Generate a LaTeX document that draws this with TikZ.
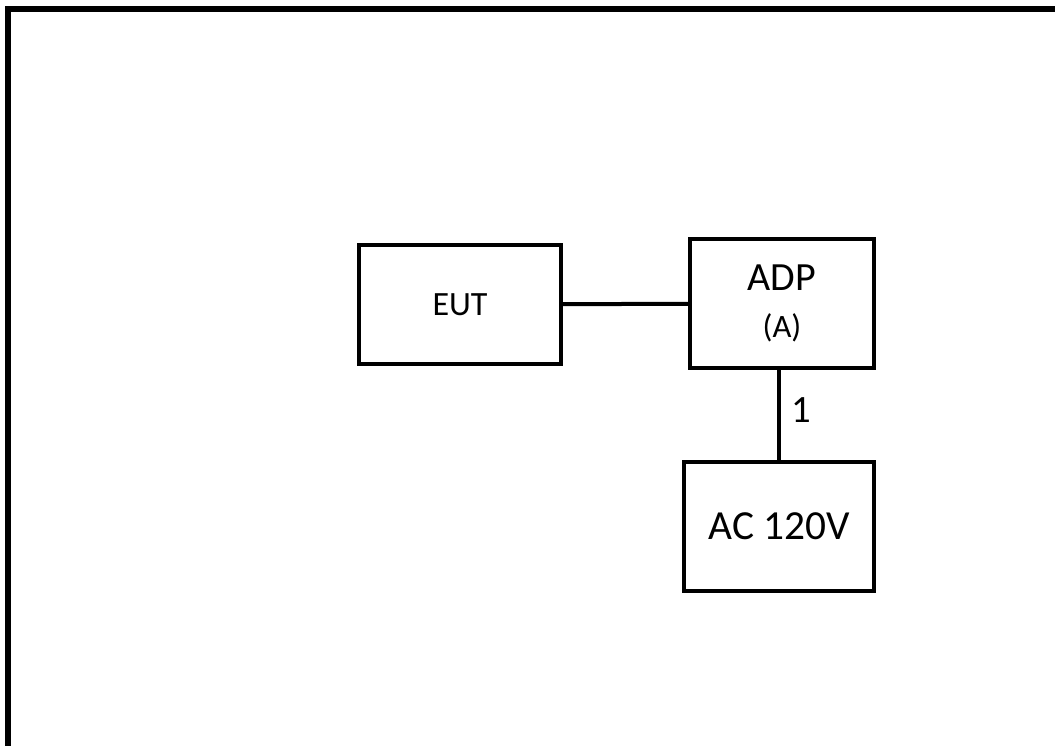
\documentclass[tikz,border=0pt]{standalone}
\usepackage{fontspec}
\setmainfont{Carlito}
\usetikzlibrary{positioning}

\begin{document}
\begin{tikzpicture}[
    x=0.75pt, y=-0.75pt,
    % Node styles
    unit/.style={
        rectangle, draw=black, line width=3pt, fill=white,
        minimum width=#1, align=center, inner sep=0pt
    },
    unit/.default=142.5pt,
    cable/.style={line width=3pt, color=black},
    frame/.style={line width=3.8pt, draw=black},
    cablelabel/.style={font=\fontsize{29}{34}\selectfont, inner sep=0pt},
]

% Page area and outer frame
\clip (0,0) rectangle (1055,745);
\draw[frame] (8,9) rectangle (1075,765);

% ═══════════════════════════════════════════════════════════════
% Units
% ═══════════════════════════════════════════════════════════════

\node[unit=151.5pt, minimum height=89.25pt, font=\fontsize{25.5}{30}\selectfont] (EUT) at (460,304.5) {EUT};

\node[unit=138pt, minimum height=96.75pt, right=93.75pt of EUT, yshift=0.75pt,
      font=\fontsize{30}{35.5}\selectfont] (ADP) {
    ADP\\
    {\fontsize{24.5}{35.5}\selectfont (A)}
};

\node[unit, minimum height=96.75pt, font=\fontsize{31}{36}\selectfont, below=67.5pt of ADP, xshift=-2.25pt] (AC) {AC 120V};

% ═══════════════════════════════════════════════════════════════
% Cables
% ═══════════════════════════════════════════════════════════════

\draw[cable] (EUT) -- (ADP);
\draw[cable] (AC.north |- ADP.south) -- (AC.north)
    node[cablelabel, midway, right=7.5pt, yshift=3.75pt] (L1) {1};

\end{tikzpicture}
\end{document}
